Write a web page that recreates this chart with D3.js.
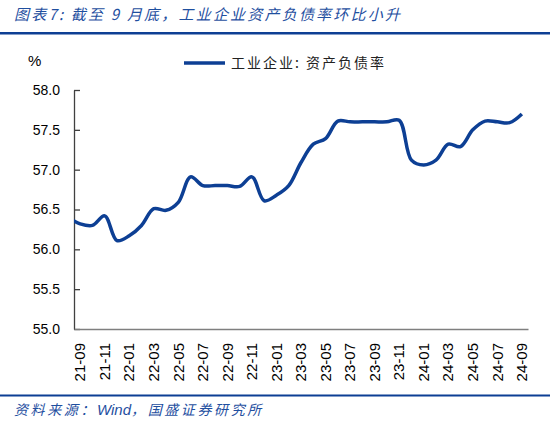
<!DOCTYPE html>
<html>
  <head>
    <meta charset="UTF-8">
    <title>工业企业资产负债率</title>
    <script src="https://d3js.org/d3.v7.min.js"></script>
    <style>
      body { margin: 0; background: #fff; }
      text { font-family: "Liberation Sans", Arial, sans-serif; }
      .cjk { font-family: "Noto Sans CJK SC", sans-serif; }
    </style>
  </head>

  <body>
    <div class="chart"></div>

    <script type="application/javascript">
      // monthly values, 21-08 is only there so the smoothed line runs into the axis
      const months = ["21-08",
        "21-09","21-10","21-11","21-12","22-01","22-02","22-03","22-04","22-05",
        "22-06","22-07","22-08","22-09","22-10","22-11","22-12","23-01","23-02",
        "23-03","23-04","23-05","23-06","23-07","23-08","23-09","23-10","23-11",
        "23-12","24-01","24-02","24-03","24-04","24-05","24-06","24-07","24-08","24-09"];
      const debtRatio = [56.40,
        56.32, 56.30, 56.42, 56.11, 56.17, 56.30, 56.51, 56.49, 56.59,
        56.91, 56.80, 56.80, 56.80, 56.79, 56.91, 56.61, 56.68, 56.80,
        57.09, 57.32, 57.39, 57.61, 57.60, 57.60, 57.60, 57.60, 57.62,
        57.12, 57.06, 57.12, 57.32, 57.29, 57.50, 57.61, 57.60, 57.59, 57.70];
      const tickLabels = ["21-09","21-11","22-01","22-03","22-05","22-07","22-09","22-11",
        "23-01","23-03","23-05","23-07","23-09","23-11","24-01","24-03","24-05","24-07","24-09"];
      const yTicks = [55.0, 55.5, 56.0, 56.5, 57.0, 57.5, 58.0];

      const W = 550, H = 421;
      const blue = "#0d3f94";
      const plotLeft = 74, plotRight = 528, plotTop = 90, plotBottom = 329;

      const svg = d3.select(".chart").append("svg")
        .attr("width", W).attr("height", H);

      // title and rules
      svg.append("text").attr("class", "cjk")
        .attr("x", 14).attr("y", 20)
        .attr("font-size", 15).attr("font-style", "italic")
        .attr("letter-spacing", 2.2)
        .attr("fill", "#1f4f9f")
        .text("图表7:  截至 9 月底，工业企业资产负债率环比小升");
      svg.append("rect").attr("x", 0).attr("y", 32).attr("width", W).attr("height", 2.5).attr("fill", blue);
      svg.append("rect").attr("x", 0).attr("y", 394.5).attr("width", W).attr("height", 2).attr("fill", blue);
      const src = svg.append("text").attr("class", "cjk")
        .attr("x", 14).attr("y", 415)
        .attr("font-size", 14).attr("font-style", "italic")
        .attr("fill", "#1f4f9f");
      src.append("tspan").attr("letter-spacing", 2.6).text("资料来源：");
      src.append("tspan").attr("font-family", "'Liberation Sans', Arial, sans-serif").attr("font-size", 15).text("Wind");
      src.append("tspan").attr("letter-spacing", 2.6).text("，国盛证券研究所");

      // scales
      const x = d3.scaleBand().domain(months.slice(1)).range([plotLeft, plotRight]);
      const xPos = m => {
        let i = months.indexOf(m) - 1;
        return plotLeft + x.step() * (i + 0.5);
      };
      const y = d3.scaleLinear().domain([55, 58]).range([plotBottom, plotTop]);

      // y axis
      const yAxis = d3.axisLeft(y).tickValues(yTicks).tickFormat(d3.format(".1f"))
        .tickSizeInner(-6).tickSizeOuter(0).tickPadding(14);
      const gy = svg.append("g").attr("transform", `translate(${plotLeft},0)`).call(yAxis);
      gy.select(".domain").attr("stroke", "#404040").attr("stroke-width", 1.3);
      gy.selectAll(".tick line").attr("stroke", "#404040").attr("stroke-width", 1.3);
      gy.selectAll(".tick text").attr("font-size", 14).attr("fill", "#000");

      // x axis
      const xAxis = d3.axisBottom(x).tickValues(tickLabels).tickSize(0).tickPadding(0);
      const gx = svg.append("g").attr("transform", `translate(0,${plotBottom})`).call(xAxis);
      gx.select(".domain").attr("stroke", "#7f7f7f").attr("stroke-width", 1.3);
      gx.selectAll(".tick text")
        .attr("font-size", 15).attr("fill", "#000")
        .attr("transform", "rotate(-90)")
        .attr("text-anchor", "end")
        .attr("dy", "0.35em")
        .attr("x", -14).attr("y", 0);

      // "%" unit
      svg.append("text").attr("x", 28).attr("y", 66).attr("font-size", 15).text("%");

      // legend
      svg.append("line").attr("x1", 184).attr("x2", 225).attr("y1", 63).attr("y2", 63)
        .attr("stroke", blue).attr("stroke-width", 3.5);
      svg.append("text").attr("class", "cjk")
        .attr("x", 231).attr("y", 68).attr("font-size", 14).attr("fill", "#222")
        .attr("letter-spacing", 2)
        .text("工业企业: 资产负债率");

      // line
      svg.append("clipPath").attr("id", "plot")
        .append("rect").attr("x", plotLeft).attr("y", 0).attr("width", plotRight - plotLeft).attr("height", H);
      const line = d3.line()
        .x((d, i) => xPos(months[i]))
        .y(d => y(d))
        .curve(d3.curveCatmullRom.alpha(0.5));
      svg.append("path").datum(debtRatio)
        .attr("clip-path", "url(#plot)")
        .attr("fill", "none").attr("stroke", blue)
        .attr("stroke-width", 3.5).attr("stroke-linejoin", "round")
        .attr("d", line);
    </script>
  </body>
</html>
